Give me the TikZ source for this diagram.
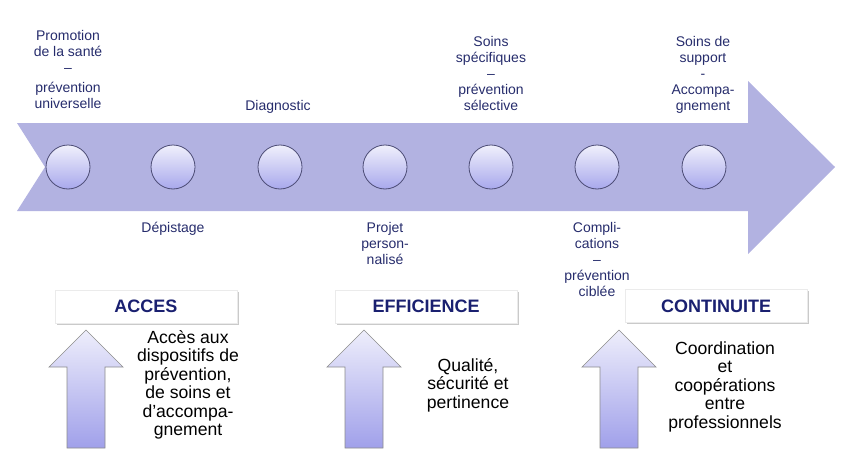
\documentclass[tikz,border=0pt]{standalone}
\usepackage{fontspec}
\setmainfont{Liberation Sans}
\usetikzlibrary{shadows}
\definecolor{arrowfill}{RGB}{178,178,225}
\definecolor{navy}{RGB}{38,44,108}
\definecolor{titlenavy}{RGB}{26,32,112}
\definecolor{circtop}{RGB}{240,240,252}
\definecolor{circbot}{RGB}{168,168,236}
\definecolor{uptop}{RGB}{238,238,251}
\definecolor{upbot}{RGB}{160,160,234}
\tikzset{
  dot/.style={circle, minimum size=33pt, inner sep=0pt, draw=black!60!blue!40!gray, line width=0.6pt,
    top color=circtop, bottom color=circbot, middle color=circtop!50!circbot},
  lbl/.style={align=center, inner sep=0pt, text=navy, font=\fontsize{10.5}{12}\selectfont, anchor=north},
  body/.style={align=center, inner sep=0pt, text=black, font=\fontsize{13.2}{13.9}\selectfont, anchor=north},
  titlebox/.style={fill=white, draw=black!8, line width=0.3pt, inner sep=0pt,
    drop shadow={shadow xshift=1.2pt, shadow yshift=-1.2pt, opacity=0.35, fill=black!60},
    minimum width=136.5pt, minimum height=24.75pt, text=titlenavy, font=\fontsize{13.5}{15}\selectfont\bfseries},
  uparrow/.style={draw=black!45, line width=0.5pt, top color=uptop, bottom color=upbot}
}
\begin{document}
\begin{tikzpicture}[x=0.75pt,y=-0.75pt]
\useasboundingbox (0,0) rectangle (866,460);
% big arrow
\fill[arrowfill] (17,123) -- (748,123) -- (748,81) -- (835,167) -- (748,254) -- (748,211) -- (17,211) -- (45,167) -- cycle;
% circles
\foreach \i/\x in {1/68,2/173,3/280,4/385,5/491,6/597,7/704}
  \node[dot] (c\i) at (\x,167) {};
% top labels
\node[lbl] (l1) at (68,30) {Promotion\\de la santé\\–\\[3pt]prévention\\universelle};
\node[lbl] (l3) at (278,100) {Diagnostic};
\node[lbl] (l5) at (491,36) {Soins\\spécifiques\\–\\prévention\\sélective};
\node[lbl] (l7) at (703,36) {Soins de\\support\\-\\Accompa-\\gnement};
% bottom labels
\node[lbl] (l2) at (173,222) {Dépistage};
\node[lbl] (l4) at (385,222) {Projet\\person-\\nalisé};
\node[lbl] (l6) at (597,222) {Compli-\\cations\\–\\prévention\\ciblée};
% title boxes
\node[titlebox] (t1) at (146,306.5) {ACCES};
\node[titlebox] (t2) at (426,306.5) {EFFICIENCE};
\node[titlebox] (t3) at (716,306) {CONTINUITE};
% up arrows
\foreach \c in {86,364,619}
  \draw[uparrow] (\c,330) -- (\c+37,367) -- (\c+19,367) -- (\c+19,448) -- (\c-19,448) -- (\c-19,367) -- (\c-37,367) -- cycle;
% body texts
\node[body] (b1) at (188,330) {Accès aux\\dispositifs de\\prévention,\\de soins et\\d’accompa-\\gnement};
\node[body] (b2) at (468,358) {Qualité,\\sécurité et\\pertinence};
\node[body] (b3) at (725,341) {Coordination\\et\\coopérations\\entre\\professionnels};
\end{tikzpicture}
\end{document}
